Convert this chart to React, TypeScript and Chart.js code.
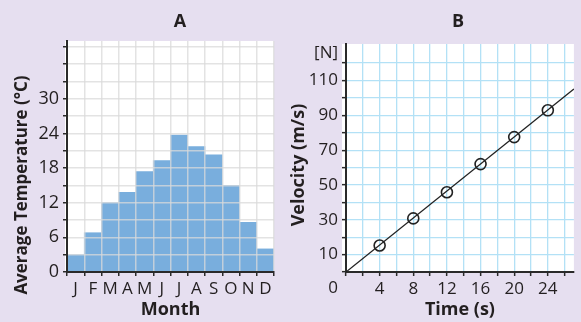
import React, { useEffect, useRef } from 'react';
import { Chart, registerables } from 'chart.js';

Chart.register(...registerables);

// ---------- Data: panel A ----------
const months = ['J', 'F', 'M', 'A', 'M', 'J', 'J', 'A', 'S', 'O', 'N', 'D'];
const avgTemp = [3.0, 6.8, 12.0, 13.8, 17.4, 19.3, 23.7, 21.7, 20.3, 15.0, 8.6, 4.0];
const tempTicks = [0, 3, 6, 9, 12, 15, 18, 21, 24, 27, 30, 33, 36, 39];
const tempLabels = [0, 6, 12, 18, 24, 30];

// ---------- Data: panel B ----------
const timeS = [4, 8, 12, 16, 20, 24];
const velocity = [15.2, 30.8, 45.8, 62.0, 77.5, 92.9];
const fitTime = [0, 27.1];
const fitVelocity = [0, 105.2];
const timeTicks = [0, 2, 4, 6, 8, 10, 12, 14, 16, 18, 20, 22, 24, 26];
const timeLabels = [4, 8, 12, 16, 20, 24];
const velTicks = [0, 10, 20, 30, 40, 50, 60, 70, 80, 90, 100, 110, 120];
const velLabels = [10, 30, 50, 70, 90, 110];
const velUnitTick = 126;
const velUnitLabel = '[N]';
const originLabel = '0';

// ---------- Styles ----------
const FONT = '"Open Sans", "Noto Sans", sans-serif';
const TEXT = '#231f20';
const AXIS = '#2a2a2a';
const BG = '#e6dff0';
const BAR = '#79aedd';
const GRID_A = 'rgba(218,218,218,0.75)';
const GRID_B = '#b3e1f6';
const LINE = '#222222';

const panelDecor = {
  id: 'panelDecor',
  beforeDraw(chart: any, _a: any, opts: any) {
    const { ctx, chartArea: ca } = chart;
    ctx.save();
    ctx.fillStyle = '#ffffff';
    ctx.fillRect(ca.left - opts.bgLeft, ca.top, ca.right - ca.left + opts.bgLeft, ca.bottom - ca.top);
    ctx.restore();
  },
  afterDraw(chart: any, _a: any, opts: any) {
    const { ctx, chartArea: ca } = chart;
    ctx.save();
    ctx.fillStyle = TEXT;
    ctx.textAlign = 'center';
    ctx.textBaseline = 'middle';
    ctx.font = `bold ${opts.titleSize}px ${FONT}`;
    ctx.fillText(opts.title, (ca.left + ca.right) / 2 + opts.titleDx, opts.titleY);
    if (opts.yTitle) {
      ctx.translate(opts.yTitleX, (ca.top + ca.bottom) / 2 + opts.yTitleDy);
      ctx.rotate(-Math.PI / 2);
      ctx.font = `bold ${opts.yTitleSize}px ${FONT}`;
      ctx.fillText(opts.yTitle, 0, 0);
    }
    ctx.restore();
  },
};

function configA(): any {
  return {
    type: 'bar',
    data: {
      labels: months,
      datasets: [
        {
          data: avgTemp,
          backgroundColor: BAR,
          borderWidth: 0,
          barPercentage: 1,
          categoryPercentage: 1,
        },
      ],
    },
    plugins: [panelDecor],
    options: {
      responsive: false,
      animation: false,
      events: [],
      layout: { padding: { top: 41, right: 16, left: 0, bottom: 0 } },
      plugins: {
        legend: { display: false },
        tooltip: { enabled: false },
        panelDecor: {
          bgLeft: 2,
          title: 'A',
          titleSize: 18,
          titleDx: 9.5,
          titleY: 22,
          yTitle: 'Average Temperature (°C)',
          yTitleSize: 17,
          yTitleX: 22,
          yTitleDy: 28.5,
        },
      },
      scales: {
        x: {
          grid: { z: 1, offset: true, color: GRID_A, lineWidth: 1.5, tickColor: AXIS, tickLength: 4, tickWidth: 1.5 },
          border: { z: 2, color: AXIS, width: 2 },
          ticks: { autoSkip: false, maxRotation: 0, padding: 3, color: TEXT, font: { family: FONT, size: 17 } },
          title: {
            display: true,
            text: 'Month',
            color: TEXT,
            font: { family: FONT, size: 18, weight: 'bold' },
            padding: { top: 0, bottom: 1 },
          },
          afterFit: (s: any) => {
            s.height = 50;
          },
        },
        y: {
          min: 0,
          max: 40,
          afterBuildTicks: (s: any) => {
            s.ticks = tempTicks.map((v) => ({ value: v }));
          },
          grid: { z: 1, color: GRID_A, lineWidth: 1.5, tickColor: AXIS, tickLength: 4, tickWidth: 1.5 },
          border: { z: 2, color: AXIS, width: 2 },
          ticks: {
            autoSkip: false,
            padding: 4,
            color: TEXT,
            font: { family: FONT, size: 18 },
            callback: (v: number) => (tempLabels.includes(v) ? String(v) : ''),
          },
          afterFit: (s: any) => {
            s.width = 67;
          },
        },
      },
    },
  };
}

function configB(): any {
  return {
    type: 'scatter',
    data: {
      datasets: [
        {
          data: fitTime.map((x, i) => ({ x, y: fitVelocity[i] })),
          showLine: true,
          borderColor: LINE,
          borderWidth: 1.3,
          pointRadius: 0,
          fill: false,
        },
        {
          data: timeS.map((x, i) => ({ x, y: velocity[i] })),
          showLine: false,
          pointRadius: 5.5,
          borderWidth: 1.6,
          borderColor: LINE,
          backgroundColor: 'rgba(0,0,0,0)',
        },
      ],
    },
    plugins: [panelDecor],
    options: {
      responsive: false,
      animation: false,
      events: [],
      layout: { padding: { top: 44, right: 0, left: 0, bottom: 0 } },
      plugins: {
        legend: { display: false },
        tooltip: { enabled: false },
        panelDecor: {
          bgLeft: 4,
          title: 'B',
          titleSize: 18,
          titleDx: -2,
          titleY: 22,
          yTitle: 'Velocity (m/s)',
          yTitleSize: 18,
          yTitleX: 9,
          yTitleDy: 7,
        },
      },
      scales: {
        x: {
          type: 'linear',
          min: 0,
          max: 27.1,
          afterBuildTicks: (s: any) => {
            s.ticks = timeTicks.map((v) => ({ value: v }));
          },
          grid: { color: GRID_B, lineWidth: 1.3, tickColor: AXIS, tickLength: 4, tickWidth: 1.5 },
          border: { color: AXIS, width: 2 },
          ticks: {
            autoSkip: false,
            maxRotation: 0,
            padding: 3,
            color: TEXT,
            font: { family: FONT, size: 17 },
            callback: (v: number) => (timeLabels.includes(v) ? String(v) : ''),
          },
          title: {
            display: true,
            text: 'Time (s)',
            color: TEXT,
            font: { family: FONT, size: 18, weight: 'bold' },
            padding: { top: 0, bottom: 1 },
          },
          afterFit: (s: any) => {
            s.height = 50;
          },
        },
        y: {
          min: 0,
          max: 131,
          afterBuildTicks: (s: any) => {
            s.ticks = [...velTicks, velUnitTick].map((v) => ({ value: v }));
          },
          grid: {
            color: (c: any) => (c.tick && c.tick.value === velUnitTick ? 'rgba(0,0,0,0)' : GRID_B),
            tickColor: (c: any) => (c.tick && c.tick.value === velUnitTick ? 'rgba(0,0,0,0)' : AXIS),
            lineWidth: 1.3,
            tickLength: 4,
            tickWidth: 1.5,
          },
          border: { color: AXIS, width: 2 },
          ticks: {
            autoSkip: false,
            padding: 4,
            color: TEXT,
            font: (c: any) =>
              c.tick && c.tick.value === 0
                ? { family: FONT, size: 17, lineHeight: 1.9 }
                : { family: FONT, size: 17 },
            callback: (v: number) => {
              if (v === velUnitTick) return velUnitLabel;
              if (v === 0) return ['', originLabel];
              return velLabels.includes(v) ? String(v) : '';
            },
          },
          afterFit: (s: any) => {
            s.width = 56;
          },
        },
      },
    },
  };
}

function ChartCanvas({ make, width, height }: { make: () => any; width: number; height: number }) {
  const ref = useRef<HTMLCanvasElement | null>(null);
  useEffect(() => {
    if (!ref.current) return;
    const chart = new Chart(ref.current, make());
    return () => chart.destroy();
  }, [make]);
  return <canvas ref={ref} width={width} height={height} style={{ display: 'block', width, height }} />;
}

export default function App() {
  return (
    <div
      style={{
        position: 'absolute',
        left: 0,
        top: 0,
        width: 581,
        height: 322,
        background: BG,
        overflow: 'hidden',
      }}
    >
      <div style={{ position: 'absolute', left: 0, top: 0 }}>
        <ChartCanvas make={configA} width={290} height={322} />
      </div>
      <div style={{ position: 'absolute', left: 290, top: 0 }}>
        <ChartCanvas make={configB} width={291} height={322} />
      </div>
    </div>
  );
}
